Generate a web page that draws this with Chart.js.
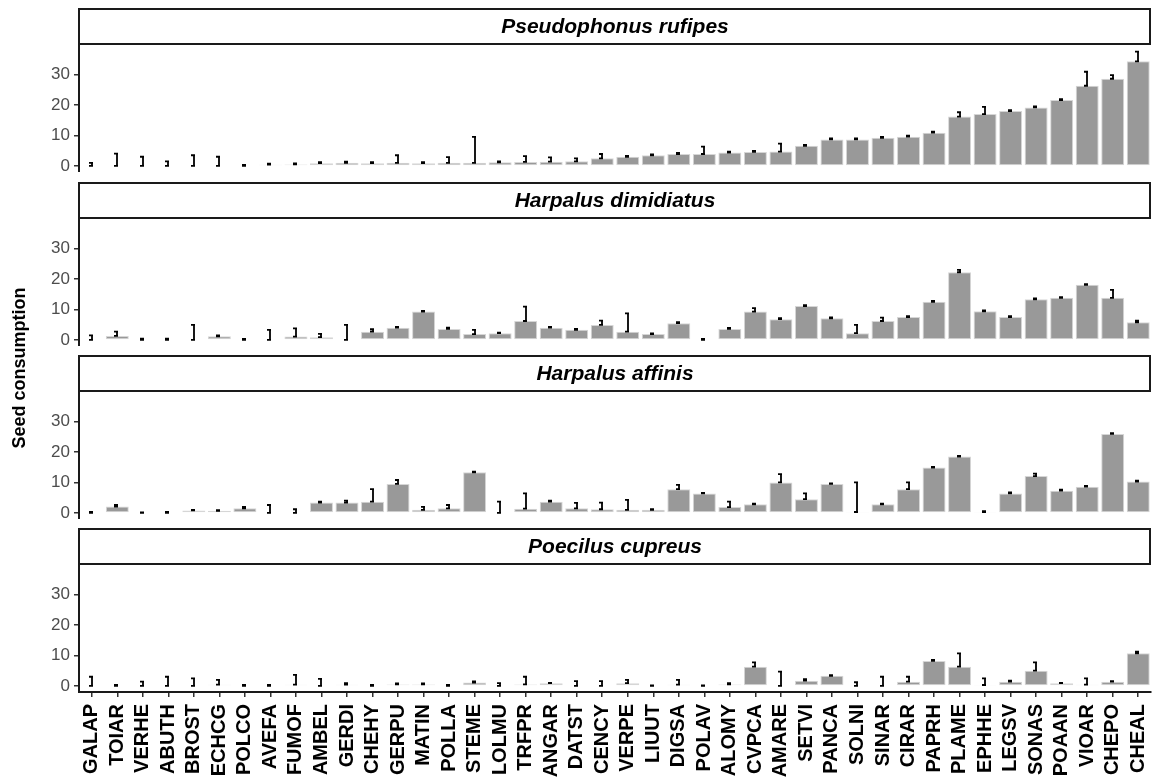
<!DOCTYPE html>
<html>
<head>
<meta charset="utf-8">
<script src="https://cdn.jsdelivr.net/npm/chart.js@4.4.1/dist/chart.umd.min.js"></script>
<style>
  body { margin: 0; background: #fff; }
  #wrap { position: relative; width: 1152px; height: 778px; overflow: hidden; background: #fff; }
  .panel { position: absolute; left: 0; width: 1152px; }
  #ytitle {
    position: absolute; left: -80px; top: 357px; width: 200px; height: 22px;
    line-height: 22px; text-align: center; transform: rotate(-90deg);
    font: bold 18px "Liberation Sans", Arial, sans-serif; color: #000;
  }
</style>
</head>
<body>
<div id="wrap">
  <div class="panel" style="top:8px;height:164px"><canvas id="c1"></canvas></div>
  <div class="panel" style="top:182px;height:164px"><canvas id="c2"></canvas></div>
  <div class="panel" style="top:355px;height:164px"><canvas id="c3"></canvas></div>
  <div class="panel" style="top:528px;height:250px"><canvas id="c4"></canvas></div>
  <div id="ytitle">Seed consumption</div>
</div>
<script>
const categories = ["GALAP", "TOIAR", "VERHE", "ABUTH", "BROST", "ECHCG", "POLCO", "AVEFA", "FUMOF", "AMBEL",
  "GERDI", "CHEHY", "GERPU", "MATIN", "POLLA", "STEME", "LOLMU", "TRFPR", "ANGAR", "DATST",
  "CENCY", "VERPE", "LIUUT", "DIGSA", "POLAV", "ALOMY", "CVPCA", "AMARE", "SETVI", "PANCA",
  "SOLNI", "SINAR", "CIRAR", "PAPRH", "PLAME", "EPHHE", "LEGSV", "SONAS", "POAAN", "VIOAR",
  "CHEPO", "CHEAL"];

const yTicks = [0, 10, 20, 30];

// mean seed consumption and upper error (se) per weed species
const rufipes = [0, 0, 0, 0, 0, 0, 0, 0.4, 0.5, 0.9, 1.0, 0.9, 1.0, 0.9, 1.0, 1.0, 1.2, 1.3, 1.4, 1.5,
  2.5, 3.0, 3.5, 3.9, 3.9, 4.4, 4.6, 4.7, 6.6, 8.7, 8.7, 9.2, 9.6, 10.9, 16.2, 17.0, 18.0, 19.2, 21.6, 26.3,
  28.6, 34.3];
const rufipesErr = [1.0, 4.0, 3.0, 1.5, 3.5, 3.0, 0.3, 0.3, 0.3, 0.3, 0.4, 0.3, 2.5, 0.3, 1.9, 8.5, 0.3, 1.9, 1.4, 1.0,
  1.4, 0.3, 0.3, 0.4, 2.4, 0.3, 0.3, 2.6, 0.3, 0.3, 0.3, 0.3, 0.3, 0.3, 1.4, 2.4, 0.3, 0.3, 0.3, 4.6,
  1.2, 3.2];

const dimidiatus = [0, 1.3, 0, 0, 0, 1.2, 0, 0, 1.1, 0.9, 0, 2.7, 4.0, 9.3, 3.6, 1.9, 2.2, 6.2, 4.0, 3.3,
  4.9, 2.7, 1.9, 5.5, 0, 3.6, 9.3, 6.8, 11.1, 7.1, 2.2, 6.2, 7.5, 12.5, 22.2, 9.4, 7.5, 13.3, 13.8, 18.1,
  13.8, 5.8];
const dimidiatusErr = [1.5, 1.4, 0.4, 0.4, 4.9, 0.3, 0.3, 3.3, 2.7, 1.1, 4.9, 0.8, 0.3, 0.2, 0.4, 1.4, 0.2, 4.7, 0.3, 0.3,
  1.4, 6.0, 0.2, 0.3, 0.3, 0.3, 1.1, 0.3, 0.3, 0.3, 2.7, 1.1, 0.3, 0.3, 0.8, 0.3, 0.3, 0.3, 0.2, 0.2,
  2.6, 0.5];

const affinis = [0, 2.1, 0, 0, 0.8, 0.7, 1.5, 0, 0, 3.4, 3.4, 3.7, 9.5, 1.0, 1.5, 13.3, 0, 1.4, 3.7, 1.5,
  1.2, 1.0, 1.0, 7.8, 6.4, 1.9, 2.8, 10.0, 4.5, 9.5, 0.3, 2.8, 7.8, 14.9, 18.5, 0.3, 6.4, 12.1, 7.3, 8.6,
  25.9, 10.3];
const affinisErr = [0.3, 0.5, 0.2, 0.3, 0.2, 0.2, 0.5, 2.6, 1.2, 0.3, 0.6, 4.1, 1.3, 1.0, 1.1, 0.2, 3.7, 5.0, 0.3, 1.8,
  2.2, 3.3, 0.2, 1.4, 0.2, 1.8, 0.2, 2.7, 1.9, 0.2, 9.7, 0.2, 2.2, 0.2, 0.2, 0.3, 0.3, 0.8, 0.3, 0.3,
  0.3, 0.3];

const cupreus = [0, 0, 0, 0, 0, 0.4, 0, 0, 0.4, 0, 0.4, 0, 0.5, 0.5, 0, 1.1, 0, 0.5, 0.9, 0,
  0, 0.9, 0, 0.4, 0, 0.5, 6.3, 0, 1.7, 3.3, 0, 0, 1.4, 8.2, 6.3, 0.3, 1.4, 5.0, 0.9, 0.4,
  1.4, 10.7];
const cupreusErr = [3.0, 0.3, 1.4, 3.0, 2.5, 1.6, 0.3, 0.3, 3.2, 2.3, 0.5, 0.3, 0.3, 0.3, 0.3, 0.4, 0.9, 2.5, 0.1, 1.6,
  1.6, 1.1, 0.2, 1.6, 0.2, 0.4, 1.4, 4.7, 0.5, 0.2, 1.2, 3.0, 1.6, 0.3, 4.4, 2.2, 0.3, 2.7, 0.1, 2.1,
  0.2, 0.5];

const FONT = '"Liberation Sans", Arial, sans-serif';

// error bars: line from mean to mean + se with small caps
const errorBars = {
  id: "errorBars",
  afterDatasetsDraw(chart) {
    const ctx = chart.ctx;
    const y = chart.scales.y;
    const ds = chart.data.datasets[0];
    ctx.save();
    ctx.strokeStyle = "#000";
    ctx.lineWidth = 1.8;
    chart.getDatasetMeta(0).data.forEach((bar, i) => {
      const lo = y.getPixelForValue(ds.data[i]);
      const hi = y.getPixelForValue(ds.data[i] + ds.errors[i]);
      const x = Math.round(bar.x);
      ctx.beginPath();
      ctx.moveTo(x, lo); ctx.lineTo(x, hi);
      ctx.moveTo(x - 3, hi); ctx.lineTo(x + 1, hi);
      ctx.moveTo(x - 3, lo); ctx.lineTo(x + 1, lo);
      ctx.stroke();
    });
    ctx.restore();
  }
};

// facet strip above each panel
const strip = {
  id: "strip",
  afterDraw(chart, args, opts) {
    const ctx = chart.ctx;
    const a = chart.chartArea;
    ctx.save();
    ctx.fillStyle = "#fff";
    ctx.fillRect(a.left, 1, a.right - a.left, a.top - 1);
    ctx.strokeStyle = "#1a1a1a";
    ctx.lineWidth = 2;
    ctx.strokeRect(a.left, 1, a.right - a.left - 1, a.top - 1);
    ctx.fillStyle = "#000";
    ctx.font = "italic bold 21px " + FONT;
    ctx.textAlign = "center";
    ctx.textBaseline = "middle";
    ctx.fillText(opts.text, (a.left + a.right) / 2, a.top / 2 + 1);
    ctx.restore();
  }
};

function makePanel(id, title, means, errs, last) {
  const ctx = document.getElementById(id).getContext("2d");
  return new Chart(ctx, {
    type: "bar",
    data: {
      labels: categories,
      datasets: [{
        data: means,
        errors: errs,
        backgroundColor: "#999999",
        borderColor: "#d6d6d6",
        borderWidth: 1,
        borderSkipped: false,
        categoryPercentage: 1.0,
        barPercentage: 0.9
      }]
    },
    plugins: [errorBars, strip],
    options: {
      responsive: true,
      maintainAspectRatio: false,
      animation: false,
      layout: { padding: { top: 36, left: 0, right: 1, bottom: 0 } },
      plugins: {
        legend: { display: false },
        tooltip: { enabled: false },
        strip: { text: title }
      },
      scales: {
        x: {
          display: last,
          grid: { drawOnChartArea: false, drawTicks: true, tickLength: 5, offset: false, color: "#333", lineWidth: 1.5 },
          border: { display: true, color: "#1a1a1a", width: 2 },
          ticks: {
            autoSkip: false, maxRotation: 90, minRotation: 90, padding: 7,
            color: "#000", font: { family: FONT, size: 20, weight: "bold" }
          },
          afterFit: (s) => {
            if (last) s.height = 86;
            s.paddingLeft = 0;
            s.paddingRight = 0;
          }
        },
        y: {
          min: -2,
          max: 40,
          afterBuildTicks: (s) => { s.ticks = yTicks.map(v => ({ value: v })); },
          afterFit: (s) => {
            s.width = 79;
            s.paddingTop = 0;
            s.paddingBottom = 0;
          },
          grid: { drawOnChartArea: false, drawTicks: true, tickLength: 5, color: "#333", lineWidth: 1.5 },
          border: { display: true, color: "#1a1a1a", width: 2 },
          ticks: { padding: 4, color: "#4d4d4d", font: { family: FONT, size: 17 } }
        }
      }
    }
  });
}

makePanel("c1", "Pseudophonus rufipes", rufipes, rufipesErr, false);
makePanel("c2", "Harpalus dimidiatus", dimidiatus, dimidiatusErr, false);
makePanel("c3", "Harpalus affinis", affinis, affinisErr, false);
makePanel("c4", "Poecilus cupreus", cupreus, cupreusErr, true);
</script>
</body>
</html>
